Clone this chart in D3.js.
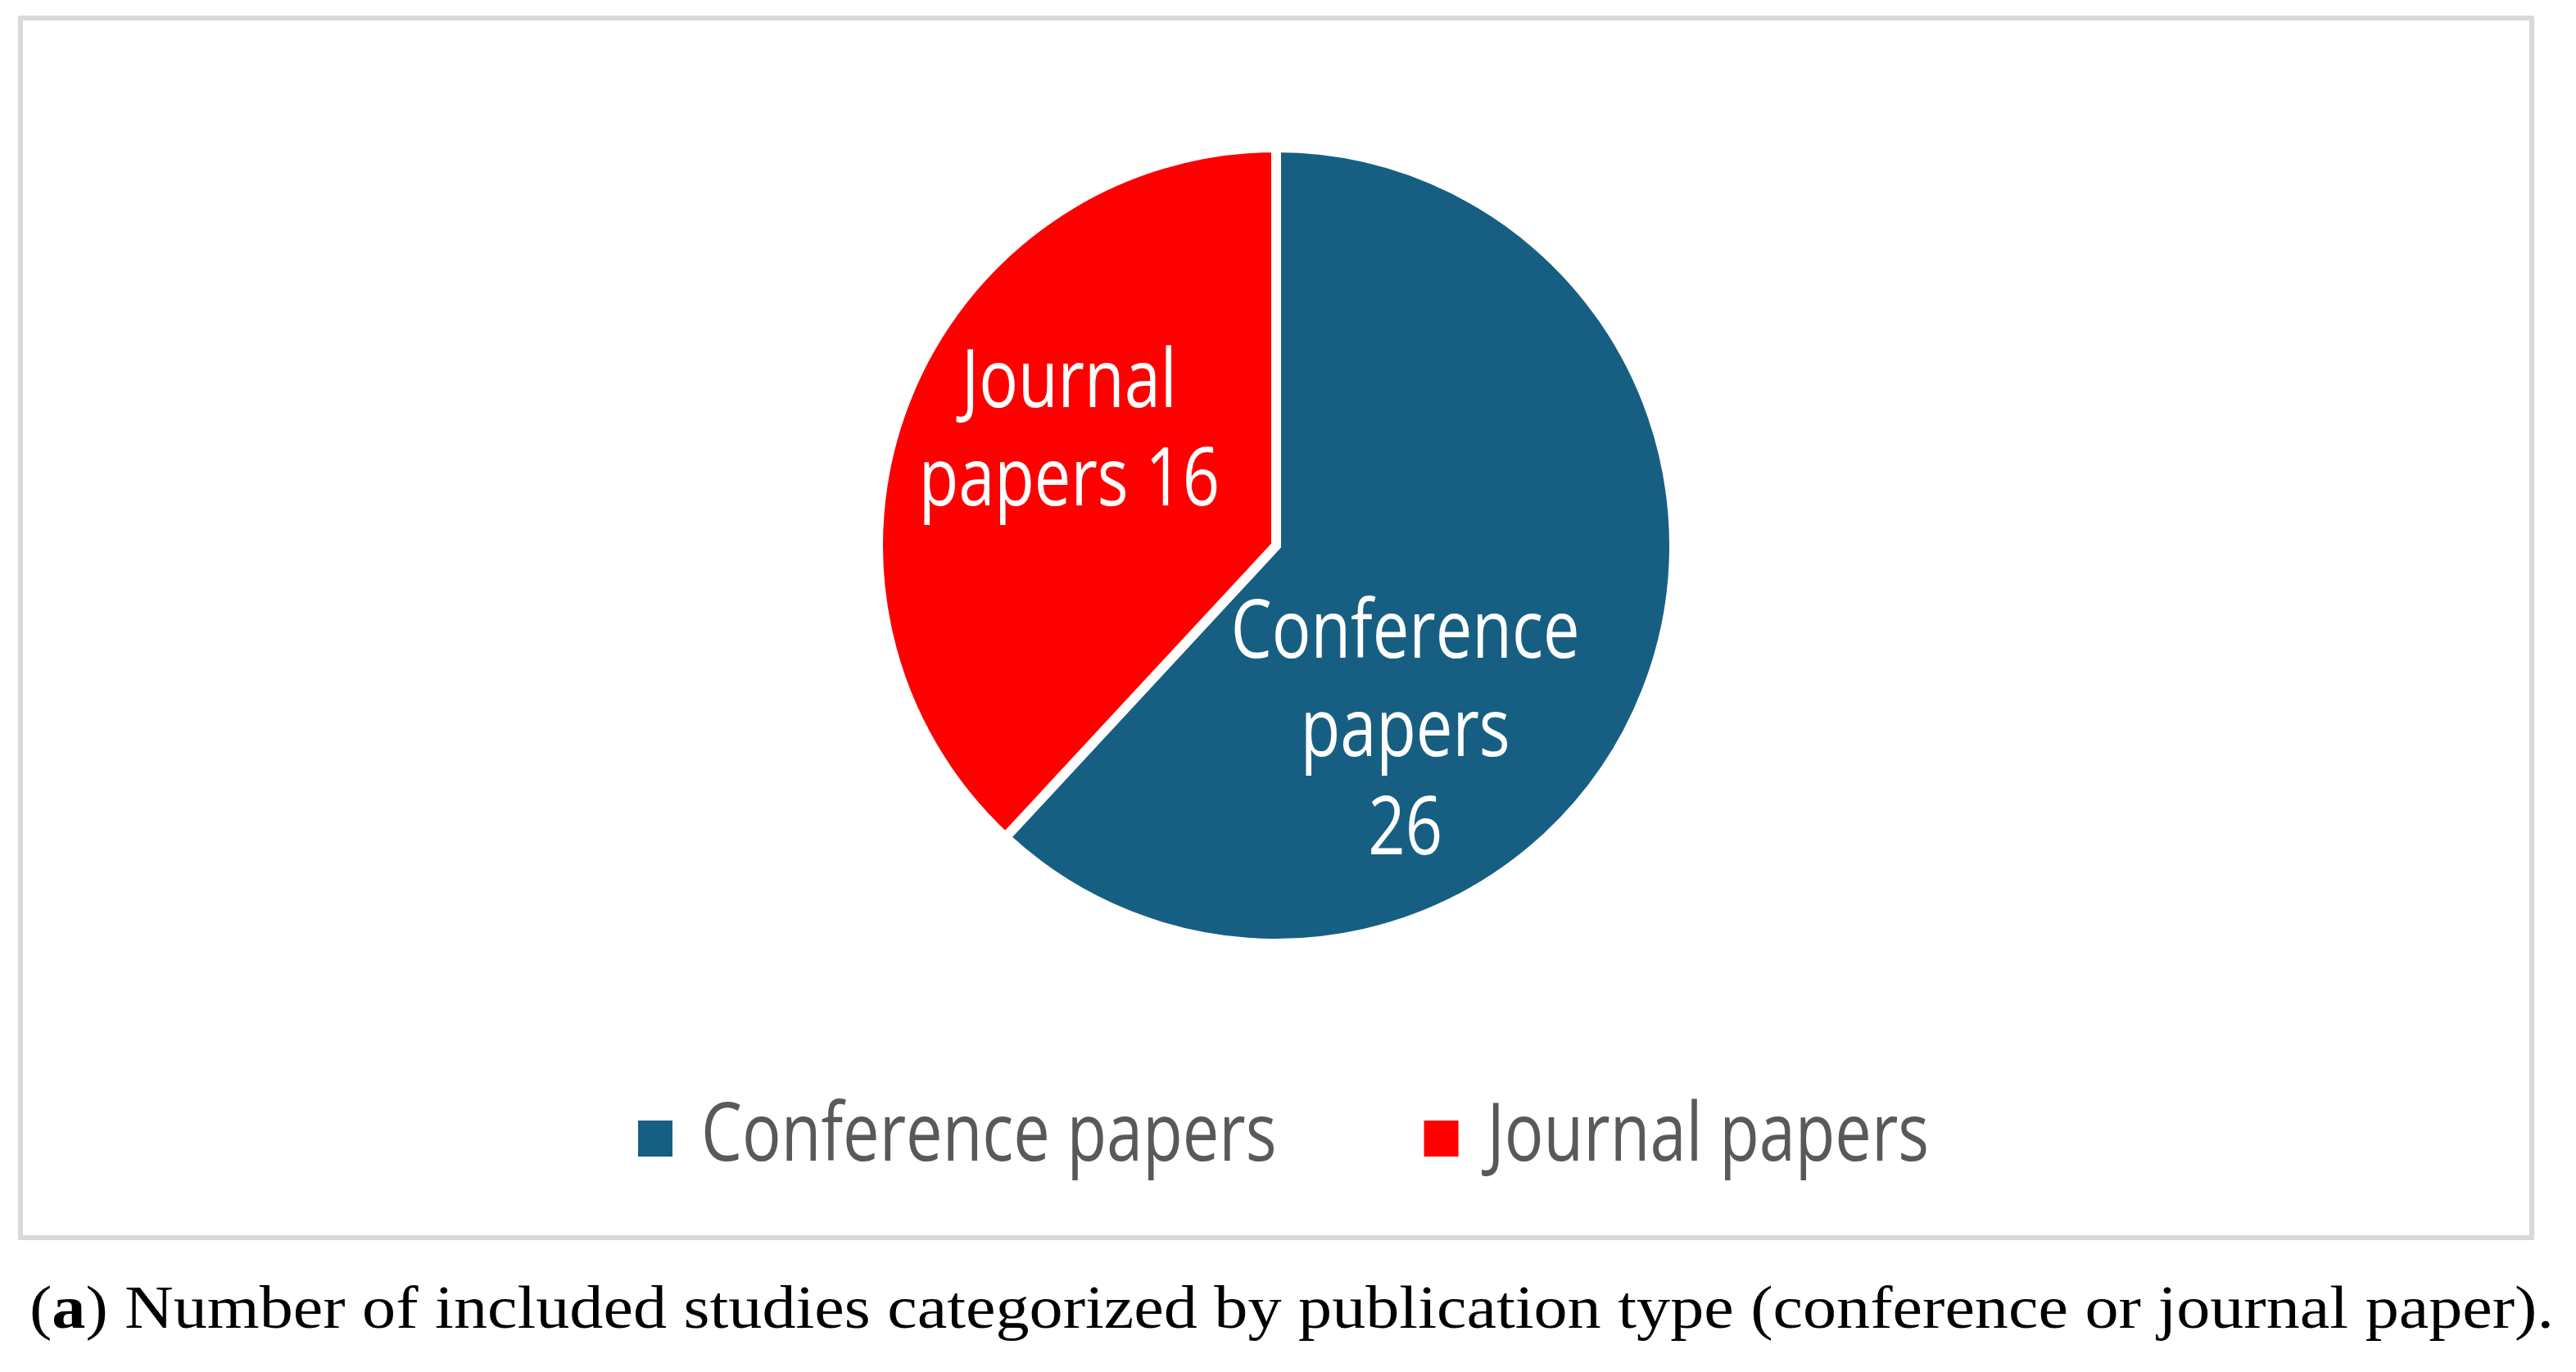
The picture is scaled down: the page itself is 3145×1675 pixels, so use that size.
<!DOCTYPE html>
<html>
<head>
<meta charset="utf-8">
<script src="https://cdn.jsdelivr.net/npm/d3@7"></script>
<style>
  body { margin: 0; background: #fff; }
</style>
</head>
<body>
<div id="chart"></div>
<script>
"use strict";

// data
const categories = ["Conference papers", "Journal papers"];
const counts = [26, 16];
const colors = ["#175F82", "#FF0000"];
// how many words go on each line of the slice label (Excel wrapping)
const labelWrap = [[1, 1, 1], [1, 2]];
const captionTag = "a";
const captionText = " Number of included studies categorized by publication type (conference or journal paper).";

const msm = {
  width: 3145,
  height: 1675,
  frame: { x: 25, y: 22, w: 3066, h: 1489 },
  cx: 1558,
  cy: 666,
  radius: 486,
  condense: 0.81
};

// where Excel put the labels, relative to the slice centroid
const labelNudge = [[-103, 120], [8, -42]];

let svgContainer = d3.select("#chart")
  .append("svg")
  .attr("width", msm.width)
  .attr("height", msm.height);

// grey frame around the chart area
svgContainer.append("rect")
  .attr("x", msm.frame.x)
  .attr("y", msm.frame.y)
  .attr("width", msm.frame.w)
  .attr("height", msm.frame.h)
  .attr("fill", "#fff")
  .attr("stroke", "#D9D9D9")
  .attr("stroke-width", 6);

let rows = categories.map((c, i) => ({ name: c, value: counts[i], color: colors[i], idx: i }));

let pie = d3.pie().sort(null).value((d) => d.value);
let arc = d3.arc().innerRadius(0).outerRadius(msm.radius);
let labelArc = d3.arc().innerRadius(280).outerRadius(280);

let pieG = svgContainer.append("g")
  .attr("transform", "translate(" + msm.cx + "," + msm.cy + ")");

let arcs = pie(rows);

pieG.selectAll(".slice")
  .data(arcs)
  .enter()
  .append("path")
    .attr("class", "slice")
    .attr("d", arc)
    .attr("fill", (d) => d.data.color)
    .attr("stroke", "#fff")
    .attr("stroke-width", 12)
    .attr("stroke-linejoin", "miter");

// slice labels, wrapped over several lines
const fontSize = 98;
const lineHeight = 120;
const capHalf = 35;

arcs.forEach((d) => {
  let words = (d.data.name + " " + d.data.value).split(" ");
  let lines = [];
  let k = 0;
  labelWrap[d.data.idx].forEach((n) => {
    lines.push(words.slice(k, k + n).join(" "));
    k += n;
  });
  let c = labelArc.centroid(d);
  let nx = c[0] + labelNudge[d.data.idx][0];
  let ny = c[1] + labelNudge[d.data.idx][1];
  let firstBase = ny - (lines.length - 1) / 2 * lineHeight + capHalf;
  lines.forEach((t, j) => {
    pieG.append("g")
      .attr("transform", "translate(" + nx + "," + (firstBase + j * lineHeight) + ")")
      .append("text")
        .attr("transform", "scale(" + msm.condense + ",1)")
        .attr("text-anchor", "middle")
        .style("font-family", "'Open Sans'")
        .style("font-size", fontSize + "px")
        .attr("fill", "#fff")
        .text(t);
  });
});

// legend
const legendStart = 779;
const legendBase = 1417;
const sq = 43;
let lx = legendStart;
rows.forEach((d) => {
  svgContainer.append("rect")
    .attr("x", lx)
    .attr("y", legendBase - 49)
    .attr("width", sq - 1)
    .attr("height", 44)
    .attr("fill", d.color);
  let t = svgContainer.append("g")
    .attr("transform", "translate(" + (lx + 77) + "," + legendBase + ")")
    .append("text")
      .attr("transform", "scale(" + msm.condense + ",1)")
      .style("font-family", "'Open Sans'")
      .style("font-size", fontSize + "px")
      .attr("fill", "#595959")
      .text(d.name);
  let w = t.node().getComputedTextLength() * msm.condense;
  lx = lx + 77 + w + 180;
});

// caption under the frame
let cap = svgContainer.append("text")
  .attr("x", 36)
  .attr("y", 1621)
  .style("font-family", "'Liberation Serif', 'DejaVu Serif', serif")
  .style("font-size", "74px")
  .attr("fill", "#000");
cap.append("tspan").text("(");
cap.append("tspan").style("font-weight", "bold").text(captionTag);
cap.append("tspan").text(")" + captionText);
cap.attr("textLength", 3082).attr("lengthAdjust", "spacingAndGlyphs");
</script>
</body>
</html>
